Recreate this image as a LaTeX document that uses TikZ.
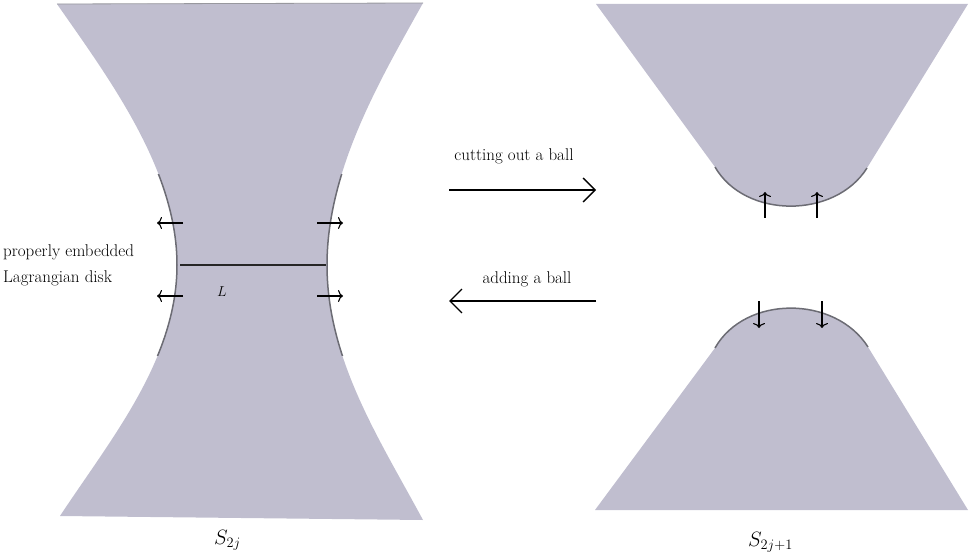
\documentclass[tikz,border=0pt]{standalone}
\usetikzlibrary{arrows.meta}
\definecolor{sheet}{RGB}{192,190,207}
\definecolor{rim}{RGB}{108,108,116}
\tikzset{
  surface/.style={fill=sheet, draw=none},
  rimarc/.style={draw=rim, line width=1.5pt},
  flowarrow/.style={line width=1.2pt, -{Computer Modern Rightarrow[length=5pt,width=12pt,line width=1.1pt]}},
  maparrow/.style={line width=1.3pt, -{Straight Barb[length=12pt,width=24pt,line width=1.3pt]}},
  txt/.style={font=\fontsize{17}{21}\selectfont, inner sep=0pt},
  mathlbl/.style={font=\fontsize{14}{17}\selectfont, inner sep=0pt},
  surflbl/.style={font=\fontsize{20}{24}\selectfont, inner sep=0pt}
}
\begin{document}
\begin{tikzpicture}[x=1pt,y=-1pt]
\useasboundingbox (0,0) rectangle (977,556);

% the hourglass S_{2j}
\path[surface] (57,4) -- (423,3)
  .. controls (380,80) and (327,170) .. (327,265)
  .. controls (327,360) and (380,440) .. (423,520)
  -- (60,516)
  .. controls (110,440) and (177,360) .. (177,265)
  .. controls (177,170) and (110,80) .. (57,4) -- cycle;
\draw[line width=0.8pt, draw=rim!70] (57,4) -- (423,3);

% boundary pieces near the neck
\begin{scope}
  \clip (0,175) rectangle (977,355);
  \draw[rimarc] (57,4) .. controls (110,80) and (177,170) .. (177,265)
                        .. controls (177,360) and (110,440) .. (60,516);
  \draw[rimarc] (423,3) .. controls (380,80) and (327,170) .. (327,265)
                        .. controls (327,360) and (380,440) .. (423,520);
\end{scope}

% the Lagrangian disk
\coordinate (La) at (180,265);
\coordinate (Lb) at (326,265);
\draw[line width=1.8pt, black!85] (La) -- (Lb);
\node[mathlbl] (Llab) at (222,292) {$L$};

% outward flow at the boundary
\coordinate (la1) at (183,223); \coordinate (la2) at (157,223);
\coordinate (lb1) at (183,296); \coordinate (lb2) at (157,296);
\coordinate (ra1) at (317,223); \coordinate (ra2) at (343,223);
\coordinate (rb1) at (317,296); \coordinate (rb2) at (343,296);
\draw[flowarrow] (la1) -- (la2);
\draw[flowarrow] (lb1) -- (lb2);
\draw[flowarrow] (ra1) -- (ra2);
\draw[flowarrow] (rb1) -- (rb2);

\node[txt, anchor=base west] (t1) at (3,256) {properly embedded};
\node[txt, anchor=base west] (t2) at (3,282) {Lagrangian disk};

\node[surflbl, anchor=base west] (S0) at (214,544) {$S_{2j}$};

% maps between the two pictures
\coordinate (m1) at (449,190); \coordinate (m2) at (596,190);
\coordinate (m3) at (596,301); \coordinate (m4) at (449,301);
\draw[maparrow] (m1) -- (m2);
\draw[maparrow] (m3) -- (m4);
\node[txt, anchor=base] (cut) at (514,161) {cutting out a ball};
\node[txt, anchor=base] (add) at (527,283) {adding a ball};

% upper piece of S_{2j+1}
\path[surface] (596,4) -- (968,4) -- (867,168)
  .. controls (835,219) and (745,219) .. (715,167) -- cycle;
\draw[rimarc] (867,168) .. controls (835,219) and (745,219) .. (715,167);

% lower piece of S_{2j+1}
\path[surface] (595,510) -- (715,348)
  .. controls (745,295) and (835,295) .. (868,347)
  -- (968,510) -- cycle;
\draw[rimarc] (715,348) .. controls (745,295) and (835,295) .. (868,347);

% flow at the new boundaries
\coordinate (ua1) at (765,218); \coordinate (ua2) at (765,192);
\coordinate (ub1) at (817,218); \coordinate (ub2) at (817,192);
\coordinate (da1) at (759,301); \coordinate (da2) at (759,328);
\coordinate (db1) at (822,301); \coordinate (db2) at (822,328);
\draw[flowarrow] (ua1) -- (ua2);
\draw[flowarrow] (ub1) -- (ub2);
\draw[flowarrow] (da1) -- (da2);
\draw[flowarrow] (db1) -- (db2);

\node[surflbl, anchor=base west] (S1) at (748,546) {$S_{2j+1}$};
\end{tikzpicture}
\end{document}
